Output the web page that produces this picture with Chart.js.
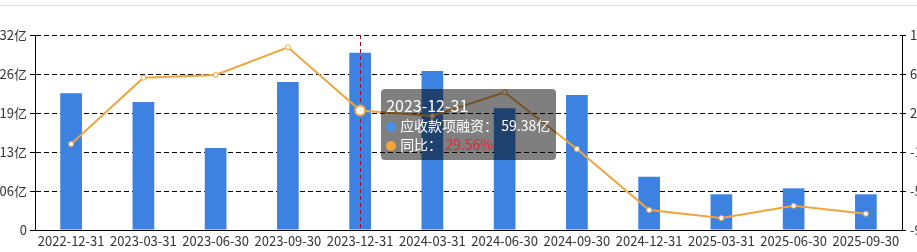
<!DOCTYPE html>
<html>
<head>
<meta charset="utf-8">
<script src="https://cdn.jsdelivr.net/npm/chart.js@4/dist/chart.umd.min.js"></script>
<style>
  html, body { margin: 0; padding: 0; background: #fff; }
  #wrap { position: relative; width: 917px; height: 252px; overflow: hidden; }
  #topline { position: absolute; left: 0; top: 5px; width: 917px; height: 0; border-top: 1px solid #ddd; }
  #tip {
    position: absolute; pointer-events: none; opacity: 0;
    background: rgba(0, 0, 0, 0.5); border-radius: 4px; color: #fff;
    font-family: "Microsoft YaHei", "Noto Sans CJK SC", sans-serif;
    padding: 5px 6px 6px 5px; white-space: nowrap;
  }
  #tip .t { font-size: 16px; line-height: 22px; }
  #tip .r { font-size: 14px; line-height: 19px; }
  #tip .d { display: inline-block; width: 10px; height: 10px; border-radius: 50%; margin: 0 4px 0 0; vertical-align: -1px; }
</style>
</head>
<body>
<div id="wrap">
  <canvas id="myChart" width="917" height="252"></canvas>
  <div id="topline"></div>
  <div id="tip"></div>
</div>
<script>
// data
const dates = ["2022-12-31", "2023-03-31", "2023-06-30", "2023-09-30", "2023-12-31", "2024-03-31",
  "2024-06-30", "2024-09-30", "2024-12-31", "2025-03-31", "2025-06-30", "2025-09-30"];
const receivables = [45.79, 42.88, 27.47, 49.58, 59.38, 53.26, 40.77, 45.22, 17.85, 11.96, 13.97, 11.96];
const yoy = [-4.9, 63.1, 65.9, 94.3, 29.56, 23.8, 48.1, -10.0, -72.6, -80.8, -68.2, -76.4];
const activeIndex = 4;

const font = "'Microsoft YaHei', 'Noto Sans CJK SC', sans-serif";
const barColor = "#3d82e0";
const lineColor = "#f0a53c";

// dashed red pointer line at the active category
const pointerLine = {
  id: "pointerLine",
  afterDatasetDraw(chart, args) {
    if (args.index !== 0) return;
    const bar = chart.getDatasetMeta(0).data[activeIndex];
    const area = chart.chartArea;
    const ctx = chart.ctx;
    ctx.save();
    ctx.strokeStyle = "#a0102a";
    ctx.lineWidth = 1;
    ctx.setLineDash([4, 3]);
    ctx.beginPath();
    ctx.moveTo(Math.round(bar.x) + 0.5, area.top);
    ctx.lineTo(Math.round(bar.x) + 0.5, area.bottom);
    ctx.stroke();
    ctx.restore();
  }
};

const externalTip = ({ chart, tooltip }) => {
  const el = document.getElementById("tip");
  if (tooltip.opacity === 0 || !tooltip.dataPoints) { el.style.opacity = 0; return; }
  const i = tooltip.dataPoints[0].dataIndex;
  const pt = chart.getDatasetMeta(1).data[i];
  el.innerHTML =
    '<div class="t">' + dates[i] + '</div>' +
    '<div class="r"><span class="d" style="background:#4a8fe8"></span>应收款项融资： ' + receivables[i].toFixed(2) + '亿</div>' +
    '<div class="r"><span class="d" style="background:#f5a53a"></span>同比： <span style="color:#e0283a">' + yoy[i].toFixed(2) + '%</span></div>';
  el.style.left = (pt.x + 21) + "px";
  el.style.top = (pt.y - 21) + "px";
  el.style.opacity = 1;
};

const data = {
  labels: dates,
  datasets: [
    {
      type: "bar",
      label: "应收款项融资",
      data: receivables,
      backgroundColor: barColor,
      hoverBackgroundColor: barColor,
      yAxisID: "y",
      barPercentage: 0.3,
      categoryPercentage: 1,
      order: 1
    },
    {
      type: "line",
      label: "同比",
      data: yoy,
      borderColor: lineColor,
      borderWidth: 2,
      backgroundColor: "#fff",
      pointRadius: 2.5,
      pointBorderWidth: 1,
      pointBackgroundColor: "#fff",
      pointBorderColor: lineColor,
      pointHoverRadius: 5,
      pointHoverBorderWidth: 2,
      pointHoverBackgroundColor: "#fff",
      pointHoverBorderColor: lineColor,
      tension: 0,
      yAxisID: "y1",
      order: 0
    }
  ]
};

const config = {
  data: data,
  options: {
    responsive: false,
    animation: false,
    layout: { padding: { top: 35, left: 0, right: 0, bottom: 0 } },
    interaction: { mode: "index", intersect: false },
    plugins: {
      legend: { display: false },
      tooltip: { enabled: false, external: externalTip }
    },
    scales: {
      x: {
        grid: { display: false, drawTicks: false },
        border: { display: true, color: "#000", width: 1 },
        ticks: { color: "#333", font: { family: font, size: 13 }, padding: 3, maxRotation: 0, autoSkip: false },
        afterFit(scale) { scale.height = 22; }
      },
      y: {
        position: "left",
        min: 0,
        max: 65.32,
        grid: { color: "#000", lineWidth: 1, tickLength: 5 },
        border: { display: true, color: "#000", width: 1, dash: [5, 3] },
        ticks: {
          count: 6,
          color: "#333",
          padding: 3,
          font: { family: font, size: 13 },
          callback: (v) => (Math.abs(v) < 1e-9 ? "0" : v.toFixed(2) + "亿")
        },
        afterFit(scale) { scale.width = 35; }
      },
      y1: {
        position: "right",
        min: -93.1,
        max: 106.9,
        grid: { drawOnChartArea: false, color: "#000", tickLength: 4 },
        border: { display: true, color: "#000", width: 1 },
        ticks: {
          count: 6,
          color: "#333",
          padding: 4,
          font: { family: font, size: 13 },
          callback: (v) => v.toFixed(2) + "%"
        },
        afterFit(scale) { scale.width = 15; }
      }
    }
  },
  plugins: [pointerLine]
};

const myChart = new Chart(document.getElementById("myChart"), config);

const act = [{ datasetIndex: 0, index: activeIndex }, { datasetIndex: 1, index: activeIndex }];
const p = myChart.getDatasetMeta(1).data[activeIndex];
myChart.setActiveElements(act);
myChart.tooltip.setActiveElements(act, { x: p.x, y: p.y });
myChart.update("none");
</script>
</body>
</html>
